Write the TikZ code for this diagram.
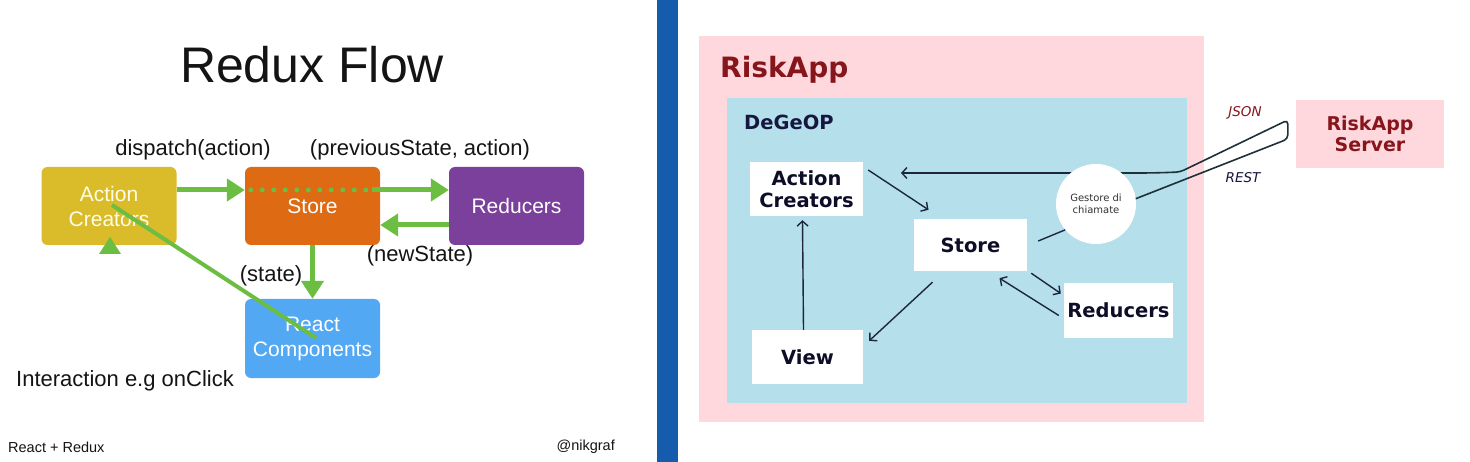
\documentclass[tikz,border=0pt]{standalone}
\usepackage{fontspec}
\setmainfont{Liberation Sans}
\newfontfamily\dvs{DejaVu Sans}
\usetikzlibrary{arrows.meta,calc}
\definecolor{rgreen}{RGB}{107,190,66}
\definecolor{ryellow}{RGB}{218,187,42}
\definecolor{rorange}{RGB}{223,106,20}
\definecolor{rpurple}{RGB}{122,64,155}
\definecolor{rblue}{RGB}{82,168,242}
\definecolor{barblue}{RGB}{22,92,172}
\definecolor{rpink}{RGB}{255,216,221}
\definecolor{rcyan}{RGB}{181,223,234}
\definecolor{dred}{RGB}{135,22,28}
\definecolor{dnavy}{RGB}{22,22,64}
\definecolor{lnavy}{RGB}{30,37,64}
\definecolor{lteal}{RGB}{30,48,56}
\definecolor{txt}{RGB}{20,20,20}
\tikzset{
  rbox/.style={rounded corners=6pt,minimum width=135pt,minimum height=78pt,inner sep=0pt,
    align=center,text=white,font=\fontsize{21}{25}\selectfont},
  garrow/.style={draw=rgreen,line width=5pt,-{Triangle[length=18pt,width=22pt]}},
  lbl/.style={text=txt,font=\fontsize{22}{26}\selectfont,inner sep=0pt},
  wbox/.style={fill=white,inner sep=0pt,align=center,text=dnavy!60!black,
    font=\dvs\bfseries\fontsize{19.5}{22}\selectfont},
  narrow/.style={draw=lnavy,line width=1.4pt,-{Straight Barb[length=5pt,width=11pt]}},
}
\begin{document}
\begin{tikzpicture}[x=1pt,y=-1pt]
\useasboundingbox (0,0) rectangle (1470,462);
\fill[white] (0,0) rectangle (1470,462);
% ---------- left panel ----------
\node[text=txt,font=\fontsize{50}{56}\selectfont,inner sep=0pt] (title) at (312,65) {Redux Flow};
\node[rbox,fill=ryellow,text=white!90!yellow] (ac) at (109,206) {Action\\Creators};
\node[rbox,fill=rorange] (st) at (312.5,206) {Store};
\node[rbox,fill=rpurple] (rd) at (516.5,206) {Reducers};
\node[rbox,fill=rblue,minimum height=79pt] (rc) at (312.5,338.5) {React\\Components};
\draw[garrow] ([yshift=16pt]ac.east) -- ([yshift=16pt]st.west);
\draw[rgreen,line width=5pt,line cap=round,dash pattern=on 0pt off 11.5pt]
  ([xshift=6pt,yshift=16pt]st.west) -- ([xshift=-14pt,yshift=16pt]st.east);
\draw[garrow] ([xshift=-8pt,yshift=16pt]st.east) -- ([yshift=16pt]rd.west);
\draw[garrow] ([yshift=-19pt]rd.west) -- ([yshift=-19pt]st.east);
\draw[garrow] (st.south) -- (rc.north);
\coordinate (i1) at (112,205);
\coordinate (i2) at (316,338);
\draw[rgreen,line width=4pt] (i1) -- (i2);
\fill[rgreen] (110,237) -- (121,254) -- (99,254) -- cycle;
\node[lbl] (l1) at (193,150) {dispatch(action)};
\node[lbl] (l2) at (420,150) {(previousState, action)};
\node[lbl] (l3) at (420,256) {(newState)};
\node[lbl] (l4) at (271,276) {(state)};
\node[lbl,anchor=west] (l5) at (16,381) {Interaction e.g onClick};
\node[lbl,anchor=west,font=\fontsize{14.5}{17}\selectfont] (f1) at (8,447) {React + Redux};
\node[lbl,anchor=east,font=\fontsize{14.5}{17}\selectfont] (f2) at (615,447) {@nikgraf};
% divider
\fill[barblue] (657,0) rectangle (678,462);
% ---------- right panel ----------
\fill[rpink] (699,36) rectangle (1204,422);
\fill[rcyan] (727,98) rectangle (1187,403);
\node[anchor=west,inner sep=0pt,text=dred,font=\dvs\bfseries\fontsize{28}{32}\selectfont] (ra) at (720,70) {RiskApp};
\node[anchor=west,inner sep=0pt,text=dnavy,font=\dvs\bfseries\fontsize{19.5}{22}\selectfont] (dg) at (744,122) {DeGeOP};
\node[wbox,minimum width=113pt,minimum height=54pt] (ac2) at (806.5,189) {Action\\Creators};
\node[wbox,minimum width=113pt,minimum height=52pt] (st2) at (970.5,245) {Store};
\node[wbox,minimum width=109pt,minimum height=55pt] (rd2) at (1118.5,310.5) {Reducers};
\node[wbox,minimum width=111pt,minimum height=54pt] (vw) at (807.5,357) {View};
\node[fill=rpink,minimum width=148pt,minimum height=68pt,inner sep=0pt,align=center,
  text=dred,font=\dvs\bfseries\fontsize{19}{21}\selectfont] (srv) at (1370,134) {RiskApp\\Server};
\coordinate (gcc) at (1096,204);
% JSON / REST link
\draw[lteal,line width=1.6pt,rounded corners=4pt]
  ([shift={(39,-5)}]gcc) -- ([xshift=-8pt,yshift=-5pt]srv.west) -- ([xshift=-8pt,yshift=14pt]srv.west)
  -- ([shift={(84,-32)}]gcc) [rounded corners=14pt] -- ([shift={(58,-31)}]gcc) [rounded corners=0pt] -- ([shift={(20,-31)}]gcc);
\draw[narrow] ([shift={(20,-31)}]gcc) -- ([shift={(-195,-31)}]gcc);
\node[circle,fill=white,minimum size=80pt,inner sep=0pt,align=center,text=black!80,
  font=\dvs\fontsize{10}{12}\selectfont] (gc) at (gcc) {Gestore di\\chiamate};
\node[text=dred,font=\dvs\itshape\fontsize{13.5}{16}\selectfont] (js) at (1245,113) {JSON};
\node[text=dnavy,font=\dvs\itshape\fontsize{13.5}{16}\selectfont] (rs) at (1243,178) {REST};
% internal connectors
\draw[narrow] ([shift={(5,-19)}]ac2.east) -- ([shift={(-42,-9)}]st2.north);
\draw[narrow] ([xshift=-4pt]vw.north) -- ([xshift=-4pt,yshift=-4pt]ac2.south);
\draw[narrow] ([shift={(-38,11)}]st2.south) -- ([shift={(6,11)}]vw.north east);
\draw[narrow] ([shift={(4,2)}]st2.south east) -- ([shift={(-3,-17)}]rd2.west);
\draw[narrow] ([shift={(-5,5)}]rd2.west) -- ([shift={(29,7)}]st2.south);
\draw[lnavy,line width=1.4pt] ([shift={(11,-4)}]st2.east) -- (gc.220);
\end{tikzpicture}
\end{document}
